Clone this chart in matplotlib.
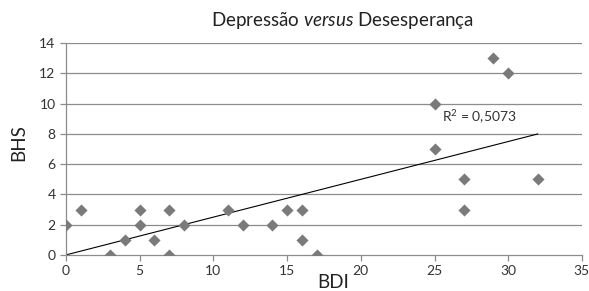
import numpy as np
import matplotlib.pyplot as plt

plt.rcParams['font.family'] = ['Lato', 'DejaVu Sans']
plt.rcParams['mathtext.fontset'] = 'custom'
plt.rcParams['mathtext.rm'] = 'Lato'
plt.rcParams['mathtext.it'] = 'Lato:italic'

# BDI (depressão) vs BHS (desesperança)
bdi = [0, 1, 3, 4, 5, 5, 6, 7, 7, 8, 11, 12, 14, 15, 16, 16, 17, 25, 25, 27, 27, 29, 30, 32]
bhs = [2, 3, 0, 1, 3, 2, 1, 3, 0, 2, 3, 2, 2, 3, 3, 1, 0, 10, 7, 5, 3, 13, 12, 5]
r2_text = 'R$^2$ = 0,5073'
x_ticks = [0, 5, 10, 15, 20, 25, 30, 35]
y_ticks = [0, 2, 4, 6, 8, 10, 12, 14]

x = np.array(bdi, dtype=float)
y = np.array(bhs, dtype=float)
slope = (x * y).sum() / (x * x).sum()  # trendline through origin

fig = plt.figure(figsize=(5.89, 2.91), dpi=100)
ax = fig.add_axes([0.112, 0.124, 0.876, 0.728])

for t in y_ticks[1:]:
    ax.axhline(t, color='#8c8c8c', lw=0.9, zorder=0)

xl = np.array([0, x.max()])
ax.plot(xl, slope * xl, color='black', lw=0.8, zorder=2)
ax.scatter(x, y, marker='D', s=38, color='#7a7a7a', zorder=3, linewidths=0)

ax.text(25.5, 9.1, r2_text, fontsize=10, color='#333333', va='center')

ax.set_xlim(0, 35)
ax.set_ylim(0, 14)
ax.set_xticks(x_ticks)
ax.set_yticks(y_ticks)
ax.tick_params(labelsize=10, colors='#8c8c8c', labelcolor='#333333', length=4, width=0.9)
ax.tick_params(axis='x', pad=3)
for s in ['top', 'right']:
    ax.spines[s].set_visible(False)
for s in ['left', 'bottom']:
    ax.spines[s].set_color('#8c8c8c')
    ax.spines[s].set_linewidth(0.9)
ax.patch.set_alpha(0)

fig.text(0.582, 0.93, r'Depressão $\mathit{versus}$ Desesperança', fontsize=13.5,
         ha='center', va='center', color='#222222')
fig.text(0.032, 0.51, 'BHS', fontsize=13.5, rotation=90, ha='center', va='center', color='#222222')
fig.text(0.565, 0.0, 'BDI', fontsize=13.5, ha='center', va='bottom', color='#222222')

fig.savefig('out.png', dpi=100)
